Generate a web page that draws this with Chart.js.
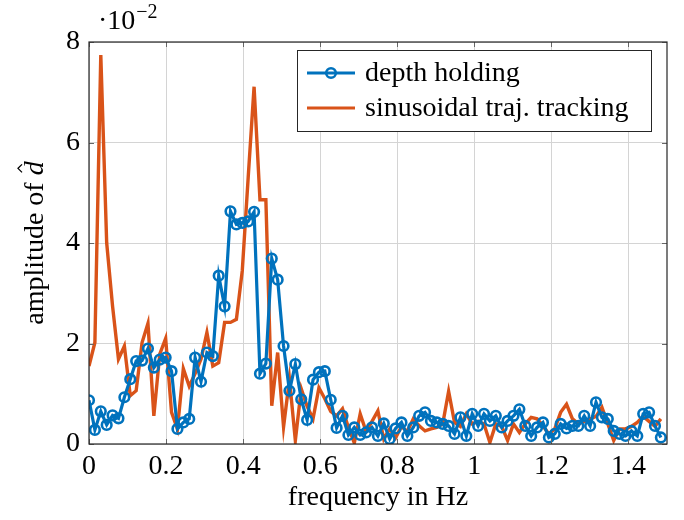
<!DOCTYPE html>
<html>
<head>
<meta charset="utf-8">
<script src="https://cdn.jsdelivr.net/npm/chart.js@4.4.1/dist/chart.umd.min.js"></script>
<style>
  html, body { margin: 0; padding: 0; background: #fff; }
  #wrap { width: 684px; height: 520px; position: relative; }
</style>
</head>
<body>
<div id="wrap"><canvas id="ampChart"></canvas></div>
<script>
// frequency bins (Hz)
const freq = [
  0, 0.0153, 0.0306, 0.0459, 0.0612, 0.0765, 0.0918, 0.1071, 0.1224, 0.1377,
  0.153, 0.1683, 0.1836, 0.1989, 0.2142, 0.2295, 0.2448, 0.2601, 0.2754, 0.2907,
  0.306, 0.3213, 0.3366, 0.3519, 0.3672, 0.3825, 0.3978, 0.4131, 0.4284, 0.4437,
  0.459, 0.4743, 0.4896, 0.5049, 0.5202, 0.5355, 0.5508, 0.5661, 0.5814, 0.5967,
  0.612, 0.6273, 0.6426, 0.6579, 0.6732, 0.6885, 0.7038, 0.7191, 0.7344, 0.7497,
  0.765, 0.7803, 0.7956, 0.8109, 0.8262, 0.8415, 0.8568, 0.8721, 0.8874, 0.9027,
  0.918, 0.9333, 0.9486, 0.9639, 0.9792, 0.9945, 1.0098, 1.0251, 1.0404, 1.0557,
  1.071, 1.0863, 1.1016, 1.1169, 1.1322, 1.1475, 1.1628, 1.1781, 1.1934, 1.2087,
  1.224, 1.2393, 1.2546, 1.2699, 1.2852, 1.3005, 1.3158, 1.3311, 1.3464, 1.3617,
  1.377, 1.3923, 1.4076, 1.4229, 1.4382, 1.4535, 1.4688, 1.4841
];

// amplitudes in units of 1e-2
const depthHolding = [
  0.87, 0.28, 0.65, 0.38, 0.57, 0.51, 0.93, 1.29, 1.65, 1.66,
  1.90, 1.52, 1.68, 1.72, 1.45, 0.30, 0.43, 0.50, 1.72, 1.24,
  1.82, 1.75, 3.35, 2.74, 4.63, 4.37, 4.40, 4.43, 4.62, 1.40,
  1.60, 3.69, 3.27, 1.95, 1.06, 1.59, 0.89, 0.48, 1.28, 1.43,
  1.45, 0.88, 0.32, 0.56, 0.18, 0.33, 0.18, 0.23, 0.33, 0.16,
  0.41, 0.10, 0.31, 0.43, 0.16, 0.33, 0.56, 0.63, 0.46, 0.43,
  0.40, 0.36, 0.20, 0.53, 0.16, 0.60, 0.36, 0.60, 0.46, 0.56,
  0.33, 0.46, 0.56, 0.69, 0.36, 0.16, 0.33, 0.43, 0.13, 0.20,
  0.40, 0.31, 0.36, 0.36, 0.56, 0.36, 0.83, 0.53, 0.50, 0.26,
  0.20, 0.16, 0.26, 0.16, 0.60, 0.63, 0.36, 0.13
];

const sinusoidalTracking = [
  1.55, 2.02, 7.74, 4.00, 2.74, 1.69, 1.95, 0.96, 1.06, 2.02,
  2.40, 0.56, 1.79, 2.10, 0.63, 0.30, 1.50, 1.15, 1.40, 1.69,
  2.22, 1.55, 1.62, 2.42, 2.42, 2.48, 3.45, 5.30, 7.11, 4.86,
  4.86, 0.76, 1.82, 0.34, 1.29, 0.07, 1.10, 0.75, 0.50, 1.12,
  0.90, 0.65, 0.56, 0.70, 0.33, 0.02, 0.60, 0.25, 0.45, 0.66,
  0.10, 0.30, 0.12, 0.35, 0.25, 0.50, 0.36, 0.26, 0.30, 0.33,
  0.40, 1.05, 0.43, 0.35, 0.60, 0.40, 0.45, 0.40, 0.03, 0.40,
  0.35, 0.07, 0.40, 0.23, 0.40, 0.53, 0.50, 0.36, 0.20, 0.30,
  0.63, 0.79, 0.50, 0.40, 0.45, 0.50, 0.55, 0.73, 0.40, 0.07,
  0.30, 0.30, 0.35, 0.43, 0.55, 0.45, 0.35, 0.50
];

const seriesNames = ["depth holding", "sinusoidal traj. tracking"];
const xTickValues = [0, 0.2, 0.4, 0.6, 0.8, 1, 1.2, 1.4];
const yTickValues = [0, 2, 4, 6, 8];

const BLUE = "#0072bd";
const ORANGE = "#d95319";
const FONT = "'Liberation Serif', 'Times New Roman', serif";

// ------------------------------------
// box, inner ticks, axis titles, legend
// ------------------------------------
const framePlugin = {
  id: "frame",
  afterDraw(chart) {
    const { ctx, chartArea: a, scales } = chart;
    const x = scales.x, y = scales.y;
    ctx.save();

    // inward tick marks
    ctx.strokeStyle = "#666";
    ctx.lineWidth = 1;
    ctx.beginPath();
    xTickValues.forEach((v) => {
      const px = Math.round(x.getPixelForValue(v)) + 0.5;
      ctx.moveTo(px, a.bottom); ctx.lineTo(px, a.bottom - 5);
      ctx.moveTo(px, a.top); ctx.lineTo(px, a.top + 5);
    });
    yTickValues.forEach((v) => {
      const py = Math.round(y.getPixelForValue(v)) + 0.5;
      ctx.moveTo(a.left, py); ctx.lineTo(a.left + 5, py);
      ctx.moveTo(a.right, py); ctx.lineTo(a.right - 5, py);
    });
    ctx.stroke();

    // axis box
    ctx.strokeStyle = "#262626";
    ctx.lineWidth = 1.2;
    ctx.strokeRect(a.left, a.top, a.right - a.left, a.bottom - a.top);

    // exponent label
    ctx.fillStyle = "#000";
    ctx.textAlign = "left";
    ctx.textBaseline = "alphabetic";
    ctx.font = "28px " + FONT;
    ctx.fillText("·10", 98, 29);
    const w = ctx.measureText("·10").width;
    ctx.font = "20px " + FONT;
    ctx.fillText("−2", 98 + w + 1, 18);

    // x title
    ctx.font = "28px " + FONT;
    ctx.textAlign = "center";
    ctx.fillText("frequency in Hz", (a.left + a.right) / 2, 505);

    // y title (rotated), italic d with a hat
    ctx.save();
    ctx.translate(43, (a.top + a.bottom) / 2);
    ctx.rotate(-Math.PI / 2);
    ctx.font = "28px " + FONT;
    const t1 = "amplitude of ";
    const w1 = ctx.measureText(t1).width;
    ctx.font = "italic 28px " + FONT;
    const w2 = ctx.measureText("d").width;
    const x0 = -(w1 + w2) / 2;
    ctx.textAlign = "left";
    ctx.font = "28px " + FONT;
    ctx.fillText(t1, x0, 0);
    ctx.font = "italic 28px " + FONT;
    ctx.fillText("d", x0 + w1, 0);
    const hx = x0 + w1 + w2 * 0.5;
    ctx.strokeStyle = "#000";
    ctx.lineWidth = 1.3;
    ctx.beginPath();
    ctx.moveTo(hx - 4, -21);
    ctx.lineTo(hx, -25);
    ctx.lineTo(hx + 4, -21);
    ctx.stroke();
    ctx.restore();

    // legend
    const lx = 297, ly = 50, lw = 354, lh = 81;
    ctx.fillStyle = "#fff";
    ctx.fillRect(lx, ly, lw, lh);
    ctx.strokeStyle = "#262626";
    ctx.lineWidth = 1;
    ctx.strokeRect(lx + 0.5, ly + 0.5, lw, lh);

    const rows = [
      { name: seriesNames[0], color: BLUE, marker: true, cy: 73, base: 81 },
      { name: seriesNames[1], color: ORANGE, marker: false, cy: 108, base: 116 },
    ];
    rows.forEach((r) => {
      ctx.strokeStyle = r.color;
      ctx.lineWidth = 3.2;
      ctx.beginPath();
      ctx.moveTo(307, r.cy);
      ctx.lineTo(355, r.cy);
      ctx.stroke();
      if (r.marker) {
        ctx.lineWidth = 2.6;
        ctx.beginPath();
        ctx.arc(331, r.cy, 4.8, 0, Math.PI * 2);
        ctx.stroke();
      }
      ctx.fillStyle = "#000";
      ctx.font = "28px " + FONT;
      ctx.textAlign = "left";
      ctx.fillText(r.name, 365, r.base);
    });

    ctx.restore();
  },
};

const ctx = document.getElementById("ampChart");
new Chart(ctx, {
  type: "line",
  data: {
    datasets: [
      {
        label: seriesNames[0],
        data: freq.map((f, i) => ({ x: f, y: depthHolding[i] })),
        borderColor: BLUE,
        borderWidth: 3.2,
        borderJoinStyle: "miter",
        pointRadius: 4.8,
        pointBorderWidth: 2.6,
        pointBorderColor: BLUE,
        pointBackgroundColor: "rgba(0,0,0,0)",
        tension: 0,
      },
      {
        label: seriesNames[1],
        data: freq.map((f, i) => ({ x: f, y: sinusoidalTracking[i] })),
        borderColor: ORANGE,
        borderWidth: 3.4,
        borderJoinStyle: "miter",
        pointRadius: 0,
        tension: 0,
      },
    ],
  },
  options: {
    responsive: true,
    maintainAspectRatio: false,
    animation: false,
    layout: { padding: { top: 42, right: 17, left: 0, bottom: 0 } },
    plugins: { legend: { display: false }, tooltip: { enabled: false } },
    scales: {
      x: {
        type: "linear",
        min: 0,
        max: 1.5,
        afterBuildTicks: (s) => { s.ticks = xTickValues.map((v) => ({ value: v })); },
        afterFit: (s) => { s.height = 76; },
        grid: { color: "#d4d4d4", lineWidth: 1, drawTicks: false },
        border: { display: false },
        ticks: {
          padding: 6,
          color: "#000",
          font: { family: FONT, size: 28 },
          maxRotation: 0,
          autoSkip: false,
          callback: (v) => String(v),
        },
      },
      y: {
        type: "linear",
        min: 0,
        max: 8,
        afterBuildTicks: (s) => { s.ticks = yTickValues.map((v) => ({ value: v })); },
        afterFit: (s) => { s.width = 89; },
        grid: { color: "#d4d4d4", lineWidth: 1, drawTicks: false },
        border: { display: false },
        ticks: {
          padding: 9,
          color: "#000",
          font: { family: FONT, size: 28 },
          callback: (v) => String(v),
        },
      },
    },
  },
  plugins: [framePlugin],
});
</script>
</body>
</html>
